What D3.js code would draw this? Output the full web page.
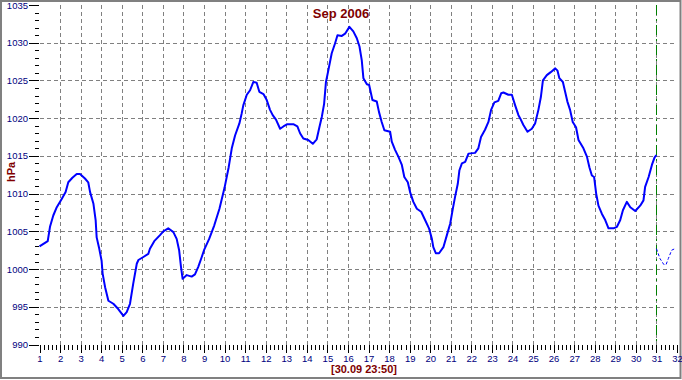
<!DOCTYPE html>
<html>
<head>
<meta charset="utf-8">
<script src="https://cdn.jsdelivr.net/npm/d3@7"></script>
<style>
  body { margin: 0; background: #fff; }
  svg { display: block; font-family: "Liberation Sans", Arial, sans-serif; }
</style>
</head>
<body>
<svg id="chart" width="682" height="380"></svg>
<script>
// pressure readings (day of month, hPa)
const days = [
  1.0, 1.4, 1.51, 1.67, 1.84, 2.08, 2.27, 2.4, 2.6, 2.81, 2.97, 3.21, 3.37, 3.46, 3.62, 3.73, 3.78, 3.89,
  4.02, 4.07, 4.19, 4.35, 4.59, 4.83, 5.08, 5.24, 5.4, 5.56, 5.73, 5.81, 6.05, 6.29, 6.37, 6.58, 6.86,
  7.02, 7.26, 7.51, 7.67, 7.79, 7.88, 7.96, 8.16, 8.4, 8.56, 8.72, 8.89, 9.0, 9.25, 9.5, 9.75, 10.0,
  10.2, 10.35, 10.51, 10.72, 10.83, 10.91, 11.08, 11.24, 11.4, 11.56, 11.69, 11.89, 12.05, 12.21, 12.34,
  12.5, 12.7, 12.86, 13.05, 13.34, 13.54, 13.67, 13.83, 14.07, 14.29, 14.48, 14.61, 14.73, 14.84, 14.93,
  15.05, 15.21, 15.37, 15.49, 15.7, 15.86, 16.07, 16.26, 16.43, 16.56, 16.67, 16.75, 16.92, 17.03,
  17.19, 17.4, 17.51, 17.64, 17.77, 18.05, 18.13, 18.29, 18.45, 18.62, 18.74, 18.91, 19.02, 19.18,
  19.35, 19.56, 19.75, 19.94, 20.08, 20.15, 20.27, 20.43, 20.64, 20.81, 20.97, 21.1, 21.21, 21.34,
  21.42, 21.54, 21.7, 21.86, 22.18, 22.34, 22.47, 22.67, 22.83, 22.96, 23.12, 23.31, 23.45, 23.56,
  23.8, 23.97, 24.13, 24.29, 24.37, 24.53, 24.73, 24.94, 25.1, 25.26, 25.38, 25.48, 25.67, 25.86,
  26.08, 26.19, 26.28, 26.45, 26.56, 26.67, 26.8, 26.93, 27.09, 27.21, 27.45, 27.62, 27.74, 27.86,
  27.97, 28.07, 28.18, 28.35, 28.51, 28.67, 28.91, 29.08, 29.24, 29.37, 29.56, 29.73, 29.97, 30.21,
  30.37, 30.45, 30.62, 30.78, 30.91, 31.0
];
const hpa = [
  1003.0, 1003.7, 1005.6, 1007.1, 1008.2, 1009.3, 1010.2, 1011.5, 1012.1, 1012.6, 1012.6, 1012.0, 1011.5, 1010.2, 1008.7, 1006.5, 1004.2, 1002.9,
  1001.1, 999.4, 997.6, 995.8, 995.4, 994.7, 993.8, 994.3, 995.4, 998.1, 1000.7, 1001.2, 1001.6, 1002.0, 1002.7, 1003.7, 1004.5,
  1005.0, 1005.4, 1004.9, 1004.0, 1002.5, 1000.3, 998.7, 999.2, 999.0, 999.3, 1000.3, 1001.6, 1002.5, 1004.0, 1005.8, 1008.0, 1010.8,
  1013.5, 1016.0, 1017.7, 1019.3, 1020.6, 1021.7, 1023.1, 1023.7, 1024.8, 1024.7, 1023.5, 1023.2, 1022.4, 1021.1, 1020.4,
  1019.8, 1018.6, 1018.9, 1019.2, 1019.2, 1018.9, 1018.0, 1017.3, 1017.1, 1016.6, 1017.2, 1018.8, 1020.2, 1021.9, 1024.8,
  1026.4, 1028.6, 1029.9, 1031.0, 1030.9, 1031.2, 1032.1, 1031.5, 1030.6, 1029.5, 1027.7, 1025.3, 1024.5, 1024.4,
  1022.4, 1022.2, 1020.8, 1019.5, 1018.4, 1018.2, 1016.9, 1015.8, 1014.9, 1013.8, 1012.2, 1011.5, 1010.2, 1008.9,
  1008.0, 1007.6, 1006.5, 1005.4, 1004.0, 1002.9, 1002.1, 1002.1, 1002.9, 1004.5, 1006.0, 1008.0, 1009.6, 1011.3,
  1013.1, 1014.0, 1014.2, 1015.3, 1015.4, 1016.0, 1017.5, 1018.5, 1019.5, 1021.1, 1022.1, 1022.3, 1023.3, 1023.4,
  1023.1, 1023.1, 1021.7, 1020.4, 1020.0, 1019.1, 1018.2, 1018.6, 1019.3, 1021.1, 1022.8, 1025.0, 1025.7, 1026.1,
  1026.6, 1026.3, 1025.3, 1024.8, 1023.5, 1022.2, 1021.1, 1019.5, 1018.8, 1017.1, 1016.0, 1014.9, 1013.5, 1012.4,
  1012.2, 1010.0, 1008.4, 1007.3, 1006.5, 1005.4, 1005.4, 1005.6, 1006.5, 1007.8, 1008.9, 1008.2, 1007.7, 1008.4,
  1009.1, 1010.9, 1012.2, 1013.8, 1014.8, 1015.1
];
// forecast (thin dashed)
const fcDays = [31.0, 31.17, 31.36, 31.47, 31.58, 31.74, 31.9];
const fcHpa = [1002.7, 1001.4, 1000.6, 1000.6, 1001.4, 1002.5, 1002.7];

const dayTicks = d3.range(1, 33);
const hpaTicks = d3.range(990, 1036, 5);
const nowDay = 31;
const title = "Sep 2006";
const stamp = "[30.09 23:50]";
const unit = "hPa";

const svg = d3.select("#chart");
const x = d3.scaleLinear().domain([1, 32]).range([39.5, 677]);
const y = d3.scaleLinear().domain([990, 1035]).range([344.5, 5]);

// frame
svg.append("rect")
  .attr("x", 1).attr("y", 1).attr("width", 679.5).attr("height", 377)
  .attr("fill", "#fff").attr("stroke", "#808080").attr("stroke-width", 2);

// grid
const grid = svg.append("g").attr("stroke", "#808080").attr("stroke-dasharray", "4,3").attr("shape-rendering", "crispEdges");
grid.selectAll("line.h")
  .data(hpaTicks.filter(v => v > 990 && v < 1035))
  .enter().append("line")
  .attr("x1", x(1)).attr("x2", x(32))
  .attr("y1", d => Math.round(y(d)) + 0.5).attr("y2", d => Math.round(y(d)) + 0.5);
grid.selectAll("line.v")
  .data(dayTicks.filter(d => d > 1 && d < 32))
  .enter().append("line")
  .attr("y1", y(1035)).attr("y2", y(990))
  .attr("x1", d => Math.round(x(d)) + 0.5).attr("x2", d => Math.round(x(d)) + 0.5);

// y axis (ticks only, no domain line)
const yAxis = svg.append("g").attr("transform", "translate(39,0)")
  .call(d3.axisLeft(y).tickValues(hpaTicks).tickSize(10).tickPadding(1).tickFormat(d3.format("d")));
yAxis.select(".domain").remove();
yAxis.selectAll("text").attr("fill", "#000080").style("font-size", "9.5px");
const yMinor = svg.append("g").attr("transform", "translate(39,0)")
  .call(d3.axisLeft(y).tickValues(d3.range(990, 1036).filter(v => v % 5)).tickSize(4).tickFormat(""));
yMinor.select(".domain").remove();

// x axis
const xAxis = svg.append("g").attr("transform", "translate(0,345)")
  .call(d3.axisBottom(x).tickValues(dayTicks).tickSize(8).tickPadding(2).tickFormat(d3.format("d")));
xAxis.select(".domain").remove();
xAxis.selectAll("text").attr("fill", "#000080").style("font-size", "9.5px");
const minorDays = [];
for (let d = 1; d < 32; d++) for (let k = 1; k < 5; k++) minorDays.push(d + k / 5);
const xMinor = svg.append("g").attr("transform", "translate(0,345)")
  .call(d3.axisBottom(x).tickValues(minorDays).tickSize(5).tickFormat(""));
xMinor.select(".domain").remove();
svg.selectAll(".tick line").attr("shape-rendering", "crispEdges");

// "now" marker
svg.append("line")
  .attr("x1", Math.round(x(nowDay)) + 0.5).attr("x2", Math.round(x(nowDay)) + 0.5)
  .attr("y1", y(1035)).attr("y2", y(990))
  .attr("stroke", "#008000").attr("stroke-dasharray", "10,4,2,4");

// series
const pts = days.map((d, i) => [d, hpa[i]]);
const fc = fcDays.map((d, i) => [d, fcHpa[i]]);
const line = d3.line().x(d => x(d[0])).y(d => y(d[1]));
svg.append("path").datum(pts)
  .attr("d", line).attr("fill", "none").attr("stroke", "#0000ff").attr("stroke-width", 2)
  .attr("stroke-linejoin", "round");
svg.append("path").datum(fc)
  .attr("d", line).attr("fill", "none").attr("stroke", "#0000ff").attr("stroke-width", 1)
  .attr("stroke-dasharray", "3,2");

// labels
svg.append("text").attr("x", 341).attr("y", 17.5).attr("text-anchor", "middle")
  .attr("fill", "#800000").style("font-size", "13px").style("font-weight", "bold").text(title);
svg.append("text").attr("x", 364).attr("y", 372.5).attr("text-anchor", "middle")
  .attr("fill", "#800000").style("font-size", "11px").style("font-weight", "bold").text(stamp);
svg.append("text").attr("transform", "translate(15,172) rotate(-90)").attr("text-anchor", "middle")
  .attr("fill", "#800000").style("font-size", "11px").style("font-weight", "bold").text(unit);
</script>
</body>
</html>
